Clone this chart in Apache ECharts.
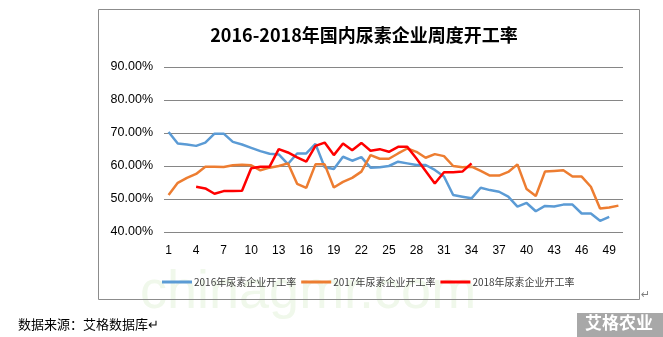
<!DOCTYPE html>
<html>
<head>
<meta charset="utf-8">
<script src="https://cdn.jsdelivr.net/npm/echarts@6/dist/echarts.min.js"></script>
<style>
  html, body { margin: 0; padding: 0; background: #fff; }
  #chart { width: 663px; height: 337px; }
</style>
</head>
<body>
<div id="chart"></div>
<script>
// Week numbers 1..50
const weeks = Array.from({ length: 50 }, (_, i) => String(i + 1));

// Weekly operating rate of domestic urea producers, in percent
const rate2016 = [
  70.3, 66.8, 66.5, 66.1, 67.1, 69.8, 69.8, 67.3, 66.5, 65.5,
  64.5, 63.7, 63.5, 60.6, 63.8, 63.8, 66.7, 59.6, 59.1, 62.8,
  61.6, 62.7, 59.5, 59.6, 60.0, 61.3, 60.8, 60.3, 60.3, 58.8,
  56.8, 51.2, 50.7, 50.2, 53.4, 52.7, 52.2, 50.7, 47.7, 48.8,
  46.3, 47.9, 47.7, 48.3, 48.3, 45.6, 45.6, 43.4, 44.6
];
const rate2017 = [
  51.2, 54.9, 56.4, 57.6, 59.8, 59.8, 59.7, 60.2, 60.4, 60.2,
  58.7, 59.5, 60.0, 60.8, 54.6, 53.4, 60.5, 60.5, 53.5, 55.2,
  56.4, 58.3, 63.3, 62.2, 62.2, 63.8, 65.3, 64.3, 62.5, 63.6,
  63.0, 60.0, 59.6, 59.8, 58.5, 57.1, 57.1, 58.2, 60.5, 53.0,
  50.9, 58.3, 58.5, 58.7, 56.8, 56.8, 53.7, 47.1, 47.4, 48.0
];
const rate2018 = [
  null, null, null, 53.7, 53.2, 51.6, 52.4, 52.4, 52.5, 59.3,
  59.8, 59.8, 65.1, 64.1, 62.6, 61.3, 66.1, 67.1, 63.3, 66.8,
  64.8, 67.0, 64.6, 65.1, 64.3, 65.8, 65.8, 62.3, 58.5, 54.7,
  58.1, 58.1, 58.3, 60.8
];

const seriesNames = ['2016年尿素企业开工率', '2017年尿素企业开工率', '2018年尿素企业开工率'];
const seriesColors = ['#5B9BD5', '#ED7D31', '#FF0000'];
const seriesData = [rate2016, rate2017, rate2018];

const chart = echarts.init(document.getElementById('chart'), null, { renderer: 'canvas' });

const option = {
  backgroundColor: '#ffffff',
  animation: false,
  title: {
    text: '2016-2018年国内尿素企业周度开工率',
    left: 359,
    textAlign: 'center',
    top: 21,
    textStyle: {
      fontFamily: 'Noto Sans CJK SC',
      fontWeight: 'bold',
      fontSize: 18,
      color: '#000000'
    }
  },
  legend: {
    data: seriesNames,
    left: 157,
    top: 272,
    itemWidth: 30,
    itemHeight: 3,
    itemGap: 5,
    icon: 'rect',
    textStyle: {
      fontFamily: 'Noto Sans CJK SC',
      fontSize: 10,
      color: '#404040',
      padding: [0, 0, 0, -3]
    }
  },
  grid: {
    left: 164,
    right: 40,
    top: 67,
    bottom: 105,
    containLabel: false
  },
  xAxis: {
    type: 'category',
    data: weeks,
    boundaryGap: true,
    axisLine: { show: false },
    axisTick: { show: false },
    axisLabel: {
      interval: (idx) => idx % 3 === 0,
      margin: 13,
      fontFamily: 'Liberation Sans',
      fontSize: 12,
      color: '#000000'
    },
    splitLine: { show: false }
  },
  yAxis: {
    type: 'value',
    min: 40,
    max: 90,
    interval: 10,
    axisLine: { show: false },
    axisTick: { show: false },
    axisLabel: {
      margin: 11,
      formatter: (v) => v.toFixed(2) + '%',
      fontFamily: 'Liberation Sans',
      fontSize: 12.5,
      color: '#000000'
    },
    splitLine: { lineStyle: { color: '#868686', width: 1 } }
  },
  series: seriesData.map((data, i) => ({
    name: seriesNames[i],
    type: 'line',
    data: data,
    symbol: 'none',
    connectNulls: false,
    lineStyle: { color: seriesColors[i], width: 2.5 },
    itemStyle: { color: seriesColors[i] },
    z: 2 + i
  })),
  graphic: [
    // faint site watermark behind the plot
    {
      type: 'text',
      left: 140,
      top: 266,
      z: -10,
      style: {
        text: 'chinagmr.com',
        font: '54px "Liberation Sans"',
        fill: '#f0f8eb'
      }
    },
    // outer frame of the chart area
    {
      type: 'rect',
      shape: { x: 98.5, y: 9.5, width: 541, height: 290 },
      style: { fill: 'none', stroke: '#8c8c8c', lineWidth: 1 },
      z: 1
    },
    {
      type: 'text',
      left: 641,
      top: 290,
      style: { text: '↵', font: '11px "DejaVu Sans"', fill: '#7f7f7f' }
    },
    {
      type: 'text',
      left: 18,
      top: 318,
      style: {
        text: '数据来源：艾格数据库↵',
        font: '13px "Noto Sans CJK SC"',
        fill: '#000000'
      }
    },
    // brand stamp at the lower right
    {
      type: 'rect',
      shape: { x: 577, y: 313, width: 86, height: 24 },
      style: { fill: '#a8a8a8' }
    },
    {
      type: 'text',
      left: 585,
      top: 314,
      style: {
        text: '艾格农业',
        font: 'bold 17px "Noto Sans CJK SC"',
        fill: '#ffffff'
      }
    }
  ]
};

chart.setOption(option);
</script>
</body>
</html>
